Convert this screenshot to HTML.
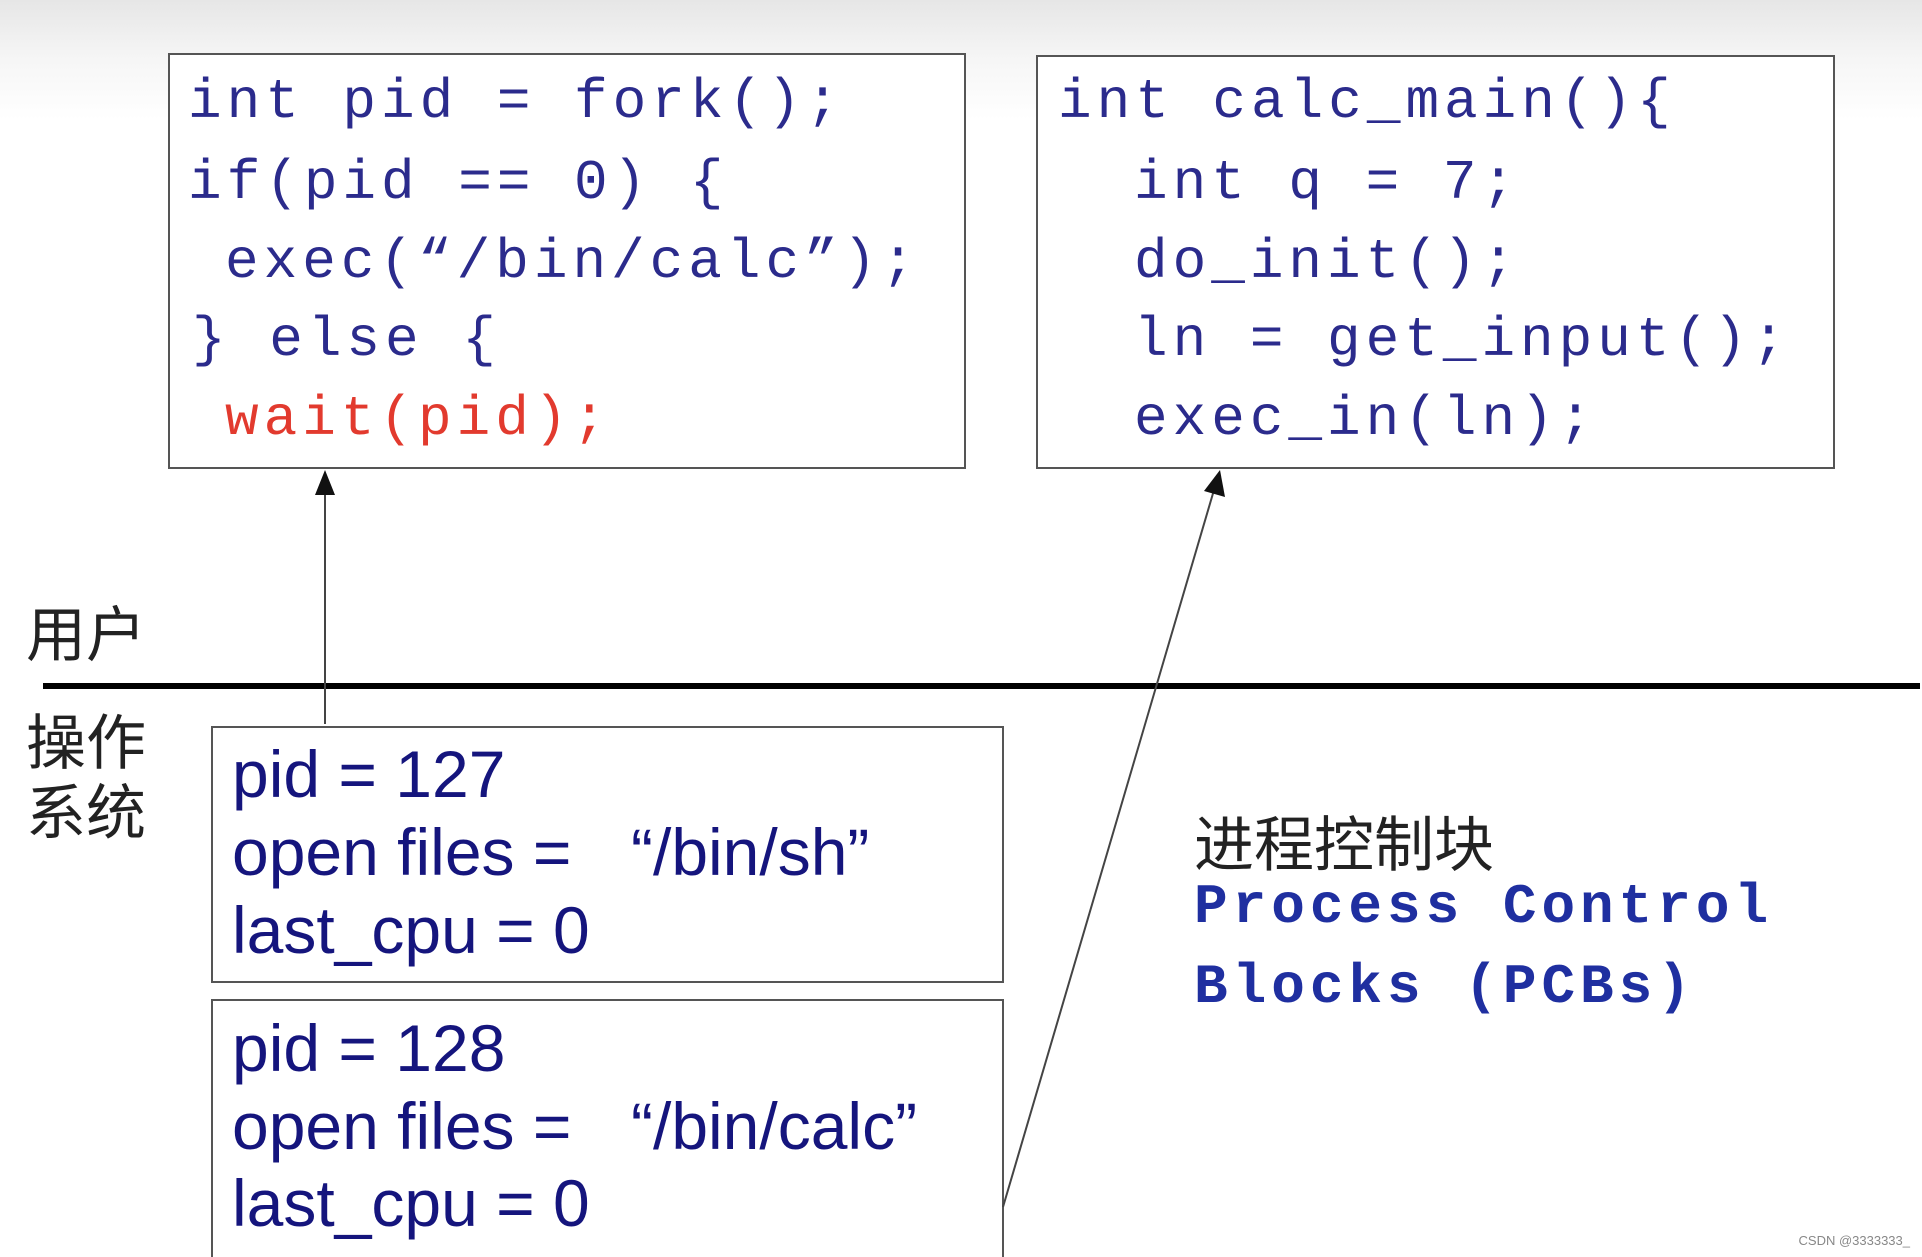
<!DOCTYPE html>
<html><head><meta charset="utf-8"><style>
html,body{margin:0;padding:0;background:#fff;width:1922px;height:1257px;overflow:hidden}
#w{width:1922px;height:1257px;position:relative;overflow:hidden;}
.bg{position:absolute;left:0;top:0;width:1922px;height:130px;background:linear-gradient(#e6e6e6 0px,#f6f6f6 60px,#fff 120px)}
.box{position:absolute;border:2px solid #555;background:#fff;box-sizing:border-box}
.code{position:absolute;font-family:"Liberation Mono",monospace;font-size:56px;letter-spacing:5px;color:#2b2b8c;white-space:pre;line-height:1;transform:translateY(-50%)}
.s{position:absolute;font-family:"Liberation Sans",sans-serif;font-size:66px;color:#15157d;white-space:pre;line-height:1;transform:translateY(-50%);letter-spacing:0}
.cn{position:absolute;font-family:"Noto Sans CJK SC",sans-serif;font-size:60px;color:#222;line-height:1;transform:translateY(-50%)}
.pcb{position:absolute;font-family:"Liberation Mono",monospace;font-weight:bold;font-size:56px;letter-spacing:5px;color:#1f2fa0;white-space:pre;line-height:1;transform:translateY(-50%)}
</style></head><body><div id="w">
<div class="bg"></div>
<div class="box" style="left:168px;top:53px;width:798px;height:416px"></div>
<div class="box" style="left:1036px;top:55px;width:799px;height:414px"></div>
<div class="code" style="left:188px;top:102px">int pid = fork();</div>
<div class="code" style="left:188px;top:183px">if(pid == 0) {</div>
<div class="code" style="left:225px;top:262px">exec(“/bin/calc”);</div>
<div class="code" style="left:192px;top:340px">} else {</div>
<div class="code" style="left:225px;top:419px;color:#e23a2e">wait(pid);</div>
<div class="code" style="left:1058px;top:102px">int calc_main(){</div>
<div class="code" style="left:1134px;top:183px">int q = 7;</div>
<div class="code" style="left:1134px;top:262px">do_init();</div>
<div class="code" style="left:1134px;top:340px">ln = get_input();</div>
<div class="code" style="left:1134px;top:419px">exec_in(ln);</div>

<div class="box" style="left:211px;top:726px;width:793px;height:257px"></div>
<div class="box" style="left:211px;top:999px;width:793px;height:258px;border-bottom:none"></div>
<div class="s" style="left:232px;top:774px">pid = 127</div>
<div class="s" style="left:232px;top:852px">open files =</div>
<div class="s" style="left:631px;top:852px">“/bin/sh”</div>
<div class="s" style="left:232px;top:930px">last_cpu = 0</div>
<div class="s" style="left:232px;top:1048px">pid = 128</div>
<div class="s" style="left:232px;top:1126px">open files =</div>
<div class="s" style="left:631px;top:1126px">“/bin/calc”</div>
<div class="s" style="left:232px;top:1203px">last_cpu = 0</div>

<div class="cn" style="left:26px;top:631px">用户</div>
<div class="cn" style="left:26px;top:739px">操作</div>
<div class="cn" style="left:26px;top:809px">系统</div>
<div class="cn" style="left:1194px;top:841px">进程控制块</div>
<div class="pcb" style="left:1194px;top:907px">Process Control</div>
<div class="pcb" style="left:1194px;top:987px">Blocks (PCBs)</div>

<svg style="position:absolute;left:0;top:0" width="1922" height="1257">
<line x1="43" y1="686" x2="1920" y2="686" stroke="#000" stroke-width="6"/>
<line x1="325" y1="724" x2="325" y2="490" stroke="#444" stroke-width="2"/>
<polygon points="325,470 315,495 335,495" fill="#111"/>
<line x1="1003" y1="1207" x2="1214" y2="490" stroke="#444" stroke-width="2"/>
<polygon points="1220,470 1204,491 1225,497" fill="#111"/>
</svg>
<div style="position:absolute;right:12px;top:1233px;font-family:'Liberation Sans',sans-serif;font-size:13px;color:#888">CSDN @3333333_</div>
</div></body></html>
